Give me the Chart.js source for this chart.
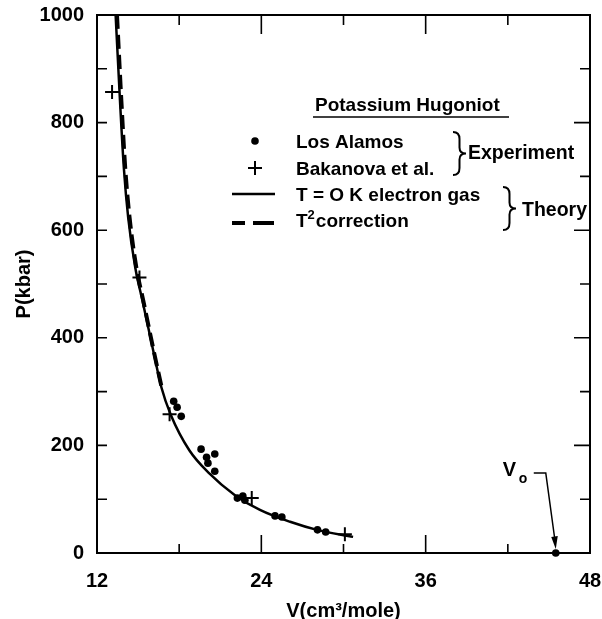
<!DOCTYPE html>
<html>
<head>
<meta charset="utf-8">
<script src="https://cdn.jsdelivr.net/npm/chart.js@4.4.1/dist/chart.umd.min.js"></script>
<style>
  html, body { margin: 0; padding: 0; background: #fff; }
  #wrap { width: 602px; height: 619px; position: relative; }
</style>
</head>
<body>
<div id="wrap"><canvas id="hugoniot"></canvas></div>
<script>
// ── Data ─────────────────────────────────────────────────────
const losAlamosV = [17.6, 17.85, 18.15, 19.6, 20.0, 20.6, 20.1, 20.6, 22.25, 22.65, 22.8, 25.0, 25.5, 28.1, 28.7];
const losAlamosP = [282, 271, 254, 193, 178, 184, 167, 152, 102, 106, 98, 69, 67, 43, 39];

const bakanovaV = [13.1, 15.1, 17.3, 23.3, 30.1];
const bakanovaP = [857, 512, 258, 102, 35];

// T = O K electron gas (solid)
const electronGasV = [13.36, 13.68, 13.96, 14.28, 14.79, 15.32, 16.1, 16.7, 17.4, 18.74, 20.2, 22.05, 23.9, 26.1, 28.07, 30.7];
const electronGasP = [1000, 840, 716, 623, 531, 469, 377, 308, 256, 191, 148, 108, 80, 58, 43, 30];

// T² correction (dashed) - only separates near the top
const t2CorrV = [13.46, 13.78, 14.06, 14.38, 14.87, 15.38, 16.13, 16.72];
const t2CorrP = [1000, 840, 716, 623, 531, 469, 377, 308];

// V0 marker on the axis
const v0V = [45.5];
const v0P = [0];

const xTickValues = [12, 18, 24, 30, 36, 42, 48];
const xTickLabels = ["12", "", "24", "", "36", "", "48"];
const yTickValues = [0, 100, 200, 300, 400, 500, 600, 700, 800, 900, 1000];
const yTickLabels = ["0", "", "200", "", "400", "", "600", "", "800", "", "1000"];

const FONT = "'Liberation Sans', Arial, Helvetica, sans-serif";
const pts = (xs, ys) => xs.map((x, i) => ({ x, y: ys[i] }));

Chart.defaults.color = "#000";
Chart.defaults.font.family = FONT;

// ── Frame + inward ticks on all four sides ───────────────────
const framePlugin = {
    id: "frame",
    beforeDatasetsDraw(chart) {
        const { ctx, chartArea: a, scales: { x, y } } = chart;
        ctx.save();
        ctx.strokeStyle = "#000";
        ctx.lineWidth = 2;
        ctx.strokeRect(a.left, a.top, a.right - a.left, a.bottom - a.top);
        ctx.lineWidth = 1.6;
        ctx.beginPath();
        xTickValues.forEach((v, i) => {
            const px = x.getPixelForValue(v);
            const major = xTickLabels[i] !== "";
            ctx.moveTo(px, a.bottom); ctx.lineTo(px, a.bottom - (major ? 18 : 9));
            ctx.moveTo(px, a.top); ctx.lineTo(px, a.top + (major ? 19 : 10));
        });
        yTickValues.forEach((v, i) => {
            const py = y.getPixelForValue(v);
            const major = yTickLabels[i] !== "";
            ctx.moveTo(a.left, py); ctx.lineTo(a.left + 10, py);
            ctx.moveTo(a.right, py); ctx.lineTo(a.right - (major ? 16 : 10), py);
        });
        ctx.stroke();
        ctx.restore();
    }
};

// ── Hand-drawn style legend + V0 annotation ──────────────────
const drawBrace = (ctx, x, y1, y2, w) => {
    const ym = (y1 + y2) / 2;
    const xm = x + w * 0.5;
    ctx.beginPath();
    ctx.moveTo(x, y1);
    ctx.quadraticCurveTo(xm, y1, xm, y1 + 7);
    ctx.lineTo(xm, ym - 6);
    ctx.quadraticCurveTo(xm, ym, x + w, ym);
    ctx.quadraticCurveTo(xm, ym, xm, ym + 6);
    ctx.lineTo(xm, y2 - 7);
    ctx.quadraticCurveTo(xm, y2, x, y2);
    ctx.stroke();
};

const legendPlugin = {
    id: "handLegend",
    afterDraw(chart) {
        const { ctx, scales: { x, y } } = chart;
        ctx.save();
        ctx.fillStyle = "#000";
        ctx.strokeStyle = "#000";
        ctx.textBaseline = "alphabetic";
        ctx.textAlign = "left";

        // title
        ctx.font = `bold 19px ${FONT}`;
        ctx.fillText("Potassium Hugoniot", 315, 111);
        ctx.lineWidth = 1.6;
        ctx.beginPath(); ctx.moveTo(313, 117); ctx.lineTo(509, 117); ctx.stroke();

        // symbols
        ctx.beginPath(); ctx.arc(255, 141, 3.8, 0, Math.PI * 2); ctx.fill();
        ctx.lineWidth = 2;
        ctx.beginPath();
        ctx.moveTo(248, 168); ctx.lineTo(262, 168);
        ctx.moveTo(255, 161); ctx.lineTo(255, 175);
        ctx.stroke();
        ctx.lineWidth = 2.5;
        ctx.beginPath(); ctx.moveTo(232, 194); ctx.lineTo(275, 194); ctx.stroke();
        ctx.lineWidth = 4;
        ctx.beginPath();
        ctx.moveTo(232, 223); ctx.lineTo(245, 223);
        ctx.moveTo(253, 223); ctx.lineTo(274, 223);
        ctx.stroke();

        // labels
        ctx.font = `bold 19px ${FONT}`;
        ctx.fillText("Los Alamos", 296, 148);
        ctx.fillText("Bakanova et al.", 296, 175);
        ctx.fillText("T = O K electron gas", 296, 201);
        ctx.fillText("T", 296, 227);
        const tw = ctx.measureText("T").width;
        ctx.font = `bold 13px ${FONT}`;
        ctx.fillText("2", 296 + tw, 219);
        const sw = ctx.measureText("2").width;
        ctx.font = `bold 19px ${FONT}`;
        ctx.fillText("correction", 297 + tw + sw, 227);

        // braces
        ctx.lineWidth = 2;
        drawBrace(ctx, 453, 132, 175, 13);
        drawBrace(ctx, 503, 187, 230, 13);
        ctx.font = `bold 19.5px ${FONT}`;
        ctx.fillText("Experiment", 468, 159);
        ctx.fillText("Theory", 522, 216);

        // V0 label with leader arrow
        const px = x.getPixelForValue(v0V[0]);
        const py = y.getPixelForValue(v0P[0]);
        ctx.font = `bold 20px ${FONT}`;
        ctx.fillText("V", px - 53, py - 77);
        ctx.font = `bold 14px ${FONT}`;
        ctx.fillText("o", px - 37, py - 70);
        ctx.lineWidth = 1.5;
        ctx.beginPath();
        ctx.moveTo(px - 22, py - 80);
        ctx.lineTo(px - 10, py - 80);
        ctx.lineTo(px - 1, py - 14);
        ctx.stroke();
        ctx.beginPath();
        ctx.moveTo(px, py - 4);
        ctx.lineTo(px - 4.5, py - 16);
        ctx.lineTo(px + 2, py - 17);
        ctx.closePath();
        ctx.fill();
        ctx.restore();
    }
};

// ── Chart ────────────────────────────────────────────────────
const ctx = document.getElementById("hugoniot").getContext("2d");

new Chart(ctx, {
    type: "scatter",
    data: {
        datasets: [
            {
                label: "T2 correction",
                data: pts(t2CorrV, t2CorrP),
                showLine: true,
                borderColor: "#000",
                borderWidth: 4,
                borderDash: [14, 6],
                pointRadius: 0,
                cubicInterpolationMode: "monotone",
            },
            {
                label: "T = O K electron gas",
                data: pts(electronGasV, electronGasP),
                showLine: true,
                borderColor: "#000",
                borderWidth: 2.5,
                pointRadius: 0,
                cubicInterpolationMode: "monotone",
            },
            {
                label: "Los Alamos",
                data: pts(losAlamosV, losAlamosP),
                pointRadius: 3.8,
                pointBackgroundColor: "#000",
                pointBorderWidth: 0,
            },
            {
                label: "Bakanova et al.",
                data: pts(bakanovaV, bakanovaP),
                pointStyle: "cross",
                pointRadius: 7,
                pointBorderColor: "#000",
                pointBorderWidth: 2,
            },
            {
                label: "V0",
                data: pts(v0V, v0P),
                pointRadius: 3.8,
                pointBackgroundColor: "#000",
                pointBorderWidth: 0,
                clip: false,
            },
        ]
    },
    options: {
        responsive: true,
        maintainAspectRatio: false,
        animation: false,
        events: [],
        layout: { padding: { top: 15, right: 12, left: 0, bottom: 0 } },
        plugins: { legend: { display: false }, tooltip: { enabled: false } },
        scales: {
            x: {
                type: "linear",
                min: 12, max: 48,
                afterBuildTicks: s => { s.ticks = xTickValues.map(v => ({ value: v })); },
                afterFit: s => { s.height = 66; s.paddingLeft = 0; s.paddingRight = 0; },
                grid: { display: false },
                border: { display: false },
                ticks: {
                    autoSkip: false, maxRotation: 0, padding: 8,
                    font: { size: 20, weight: "bold" },
                    callback: (v, i) => xTickLabels[i],
                },
                title: {
                    display: true,
                    text: "V(cm³/mole)",
                    font: { size: 20, weight: "bold", lineHeight: 0.8 },
                    padding: { top: 0, bottom: 0 },
                },
            },
            y: {
                type: "linear",
                min: 0, max: 1000,
                afterBuildTicks: s => { s.ticks = yTickValues.map(v => ({ value: v })); },
                afterFit: s => { s.width = 97; s.paddingTop = 0; s.paddingBottom = 0; },
                grid: { display: false },
                border: { display: false },
                ticks: {
                    autoSkip: false, padding: 5,
                    font: { size: 20, weight: "bold" },
                    callback: (v, i) => yTickLabels[i],
                },
                title: {
                    display: true,
                    text: "P(kbar)",
                    font: { size: 20, weight: "bold" },
                    padding: { top: 12, bottom: 0 },
                },
            },
        },
    },
    plugins: [framePlugin, legendPlugin],
});
</script>
</body>
</html>
